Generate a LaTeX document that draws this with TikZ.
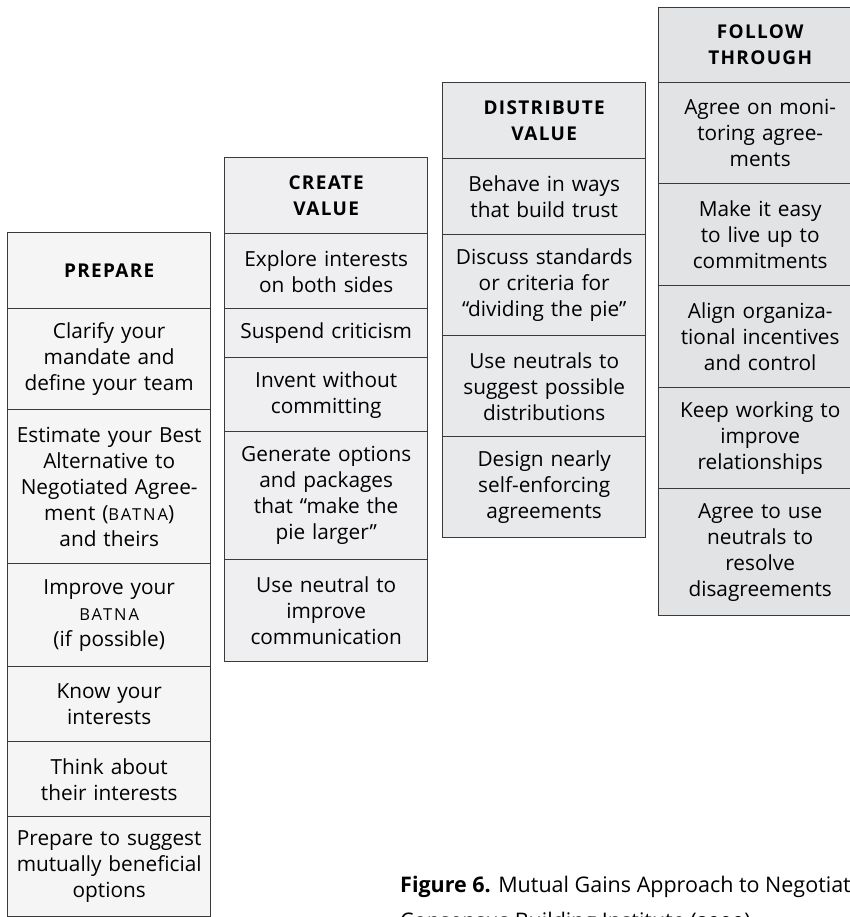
\documentclass[tikz,border=0pt]{standalone}
\usepackage{fontspec}
\setmainfont{Open Sans}
\newfontfamily\headfamily{Open Sans}[LetterSpace=7]
\newfontfamily\scfamily{Open Sans}[LetterSpace=12]
\newcommand\batna{{\scfamily\fontsize{16.5}{26}\selectfont BATNA}}
\newcommand\headtxt{\headfamily\bfseries\fontsize{19}{26}\selectfont}
\definecolor{colA}{HTML}{F5F5F5}
\definecolor{colB}{HTML}{EFEFF1}
\definecolor{colC}{HTML}{E8E9EB}
\definecolor{colD}{HTML}{E2E3E5}
\definecolor{edge}{HTML}{3A3A3A}
\tikzset{
  cell/.style={draw=edge, line width=1.4pt, anchor=north west, inner sep=0pt,
    minimum width=203pt, text width=197pt, align=center,
    font=\fontsize{20.8}{26}\selectfont},
  capt/.style={anchor=base west, inner sep=0pt, font=\fontsize{21.5}{26}\selectfont}
}
\begin{document}
\begin{tikzpicture}[x=1pt,y=-1pt]
\useasboundingbox (0,0) rectangle (850,917);
\clip (0,0) rectangle (850,917);
\fill[white] (0,0) rectangle (850,917);
% PREPARE
\node[cell,fill=colA,minimum height=76pt] (p0) at (7,232) {\headtxt PREPARE};
\node[cell,fill=colA,minimum height=101pt] (p1) at (7,308) {Clarify your\\mandate and\\define your team};
\node[cell,fill=colA,minimum height=154pt] (p2) at (7,409) {Estimate your Best\\Alternative to\\Negotiated Agree-\\ment (\batna)\\and theirs};
\node[cell,fill=colA,minimum height=103pt] (p3) at (7,563) {Improve your\\\batna\\(if possible)};
\node[cell,fill=colA,minimum height=75pt] (p4) at (7,666) {Know your\\interests};
\node[cell,fill=colA,minimum height=75pt] (p5) at (7,741) {Think about\\their interests};
\node[cell,fill=colA,minimum height=100pt] (p6) at (7,816) {Prepare to suggest\\mutually beneficial\\options};
% CREATE VALUE
\node[cell,fill=colB,minimum height=76pt] (c0) at (224,157) {\headtxt CREATE\\VALUE};
\node[cell,fill=colB,minimum height=75pt] (c1) at (224,233) {Explore interests\\on both sides};
\node[cell,fill=colB,minimum height=49pt] (c2) at (224,308) {Suspend criticism};
\node[cell,fill=colB,minimum height=74pt] (c3) at (224,357) {Invent without\\committing};
\node[cell,fill=colB,minimum height=128pt] (c4) at (224,431) {Generate options\\and packages\\that “make the\\pie larger”};
\node[cell,fill=colB,minimum height=102pt] (c5) at (224,559) {Use neutral to\\improve\\communication};
% DISTRIBUTE VALUE
\node[cell,fill=colC,minimum height=76pt] (d0) at (442,82) {\headtxt DISTRIBUTE\\VALUE};
\node[cell,fill=colC,minimum height=76pt] (d1) at (442,158) {Behave in ways\\that build trust};
\node[cell,fill=colC,minimum height=101pt] (d2) at (442,234) {Discuss standards\\or criteria for\\“dividing the pie”};
\node[cell,fill=colC,minimum height=101pt] (d3) at (442,335) {Use neutrals to\\suggest possible\\distributions};
\node[cell,fill=colC,minimum height=101pt] (d4) at (442,436) {Design nearly\\self-enforcing\\agreements};
% FOLLOW THROUGH
\node[cell,fill=colD,minimum height=75pt] (f0) at (658,7) {\headtxt FOLLOW\\THROUGH};
\node[cell,fill=colD,minimum height=101pt] (f1) at (658,82) {Agree on moni-\\toring agree-\\ments};
\node[cell,fill=colD,minimum height=102pt] (f2) at (658,183) {Make it easy\\to live up to\\commitments};
\node[cell,fill=colD,minimum height=102pt] (f3) at (658,285) {Align organiza-\\tional incentives\\and control};
\node[cell,fill=colD,minimum height=101pt] (f4) at (658,387) {Keep working to\\improve\\relationships};
\node[cell,fill=colD,minimum height=127pt] (f5) at (658,488) {Agree to use\\neutrals to\\resolve\\disagreements};
% caption
\node[capt] (cap1) at (400,892) {\textbf{Figure 6.} Mutual Gains Approach to Negotiation};
\node[capt] (cap2) at (400,928) {Consensus Building Institute ({\addfontfeature{Numbers=OldStyle}2000}).};
\end{tikzpicture}
\end{document}
